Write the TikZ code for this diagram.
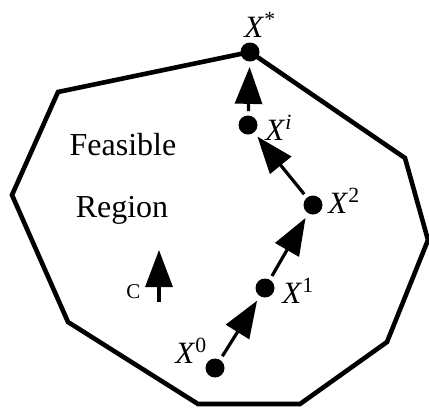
\documentclass[tikz,border=0pt]{standalone}
\usepackage{fontspec}
\setmainfont{Liberation Serif}
\usetikzlibrary{arrows.meta, positioning}
\tikzset{every node/.append style={inner sep=0pt}}

\begin{document}
\begin{tikzpicture}[
    x=0.5pt, y=-0.5pt,
    region/.style={line width=2.3pt, line join=miter},
    pnt/.style={circle, fill=black, minimum size=9.5pt, inner sep=0pt},
    lbl/.style={anchor=base west, font=\fontsize{15.5}{18}\selectfont},
    txt/.style={anchor=base, font=\fontsize{16}{19}\selectfont},
    move/.style={-{Triangle[length=18.5pt, width=13.5pt]}, line width=1.6pt,
        shorten <=2pt, shorten >=2.5pt}
]
\useasboundingbox (0,0) rectangle (429,408);
% feasible region
\draw[region] (250,52) -- (405,158) -- (428,240) -- (387,342) -- (300,404)
    -- (198,404) -- (68,322) -- (12,195) -- (58,92) -- cycle;
\node[txt] (feas) at (123,155) {Feasible};
\node[txt] (regn) at (122,217) {Region};
% iterates
\node[pnt] (x0) at (215,368) {};
\node[pnt] (x1) at (265,288) {};
\node[pnt] (x2) at (313,205) {};
\node[pnt] (xi) at (248,125) {};
\node[pnt] (xstar) at (250,52) {};
\node[lbl] (l0) at (175,363) {\textit{X}\textsuperscript{0}};
\node[lbl] (l1) at (282,303) {\textit{X}\textsuperscript{1}};
\node[lbl] (l2) at (328,213) {\textit{X}\textsuperscript{2}};
\node[lbl] (li) at (265,140) {\textit{X}\textsuperscript{\textit{i}}};
\node[lbl] (lstar) at (244,37) {\textit{X}\textsuperscript{*}};
\draw[move] (x0) -- (x1);
\draw[move] (x1) -- (x2);
\draw[move] (x2) -- (xi);
\draw[move] (xi) -- (xstar);
% cost vector
\node[txt, font=\fontsize{10.5}{12}\selectfont] (cvec) at (133.5,298) {C};
\coordinate (cfoot) at (159,302);
\coordinate (ctip) at (159,250);
\draw[move, shorten <=0pt, shorten >=0pt] (cfoot) -- (ctip);
\end{tikzpicture}
\end{document}
